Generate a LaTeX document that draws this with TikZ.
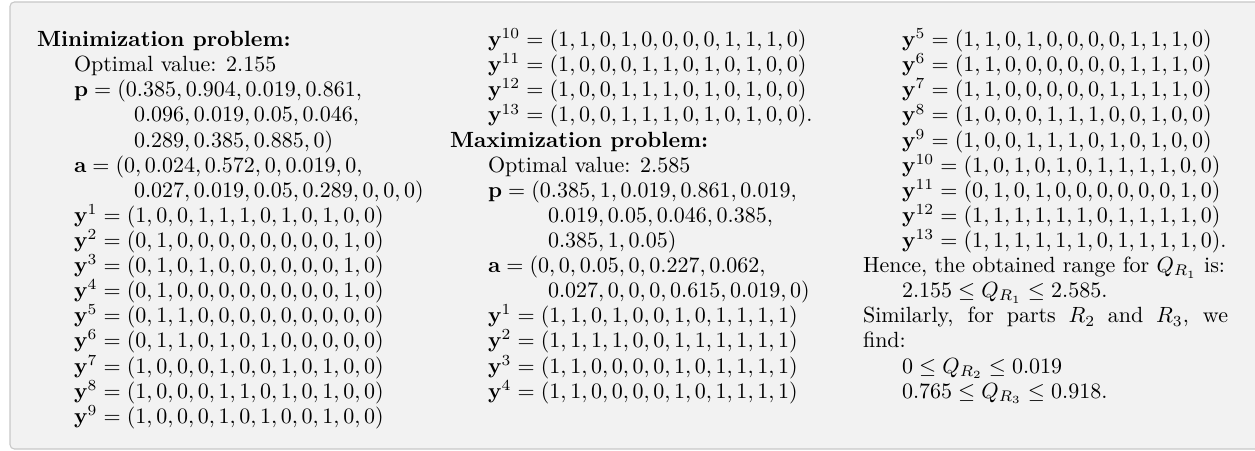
\documentclass[tikz,border=0pt]{standalone}
\usepackage{amsmath}
\definecolor{boxfill}{HTML}{F2F2F2}
\definecolor{boxline}{HTML}{C8C8C8}
\begin{document}
\begin{tikzpicture}[x=0.4545pt,y=-0.4545pt,
  ln/.style={anchor=base west,inner sep=0pt,outer sep=0pt,font=\normalsize}]
\useasboundingbox (0,0) rectangle (1255,451);
\draw[rounded corners=2pt,fill=boxfill,draw=boxline,line width=0.5pt] (10,2) rectangle (1265,449);
% column 1
\node[ln] (a0) at (37,46.7) {\textbf{Minimization problem:}};
\node[ln] (a1) at (74,71.8) {Optimal value: 2.155};
\node[ln] (a2) at (74,96.9) {$\mathbf{p}=(0.385,0.904,0.019,0.861,$};
\node[ln] (a3) at (134,122.0) {$0.096,0.019,0.05,0.046,$};
\node[ln] (a4) at (134,147.1) {$0.289,0.385,0.885,0)$};
\node[ln] (a5) at (74,172.2) {$\mathbf{a}=(0,0.024,0.572,0,0.019,0,$};
\node[ln] (a6) at (134,197.3) {$0.027,0.019,0.05,0.289,0,0,0)$};
\node[ln] (a7) at (74,222.4) {$\mathbf{y}^1=(1,0,0,1,1,1,0,1,0,1,0,0)$};
\node[ln] (a8) at (74,247.5) {$\mathbf{y}^2=(0,1,0,0,0,0,0,0,0,0,1,0)$};
\node[ln] (a9) at (74,272.6) {$\mathbf{y}^3=(0,1,0,1,0,0,0,0,0,0,1,0)$};
\node[ln] (a10) at (74,297.7) {$\mathbf{y}^4=(0,1,0,0,0,0,0,0,0,0,1,0)$};
\node[ln] (a11) at (74,322.8) {$\mathbf{y}^5=(0,1,1,0,0,0,0,0,0,0,0,0)$};
\node[ln] (a12) at (74,347.9) {$\mathbf{y}^6=(0,1,1,0,1,0,1,0,0,0,0,0)$};
\node[ln] (a13) at (74,373.0) {$\mathbf{y}^7=(1,0,0,0,1,0,0,1,0,1,0,0)$};
\node[ln] (a14) at (74,398.1) {$\mathbf{y}^8=(1,0,0,0,1,1,0,1,0,1,0,0)$};
\node[ln] (a15) at (74,423.2) {$\mathbf{y}^9=(1,0,0,0,1,0,1,0,0,1,0,0)$};
% column 2
\node[ln] (b0) at (488,46.7) {$\mathbf{y}^{10}=(1,1,0,1,0,0,0,0,1,1,1,0)$};
\node[ln] (b1) at (488,71.8) {$\mathbf{y}^{11}=(1,0,0,0,1,1,0,1,0,1,0,0)$};
\node[ln] (b2) at (488,96.9) {$\mathbf{y}^{12}=(1,0,0,1,1,1,0,1,0,1,0,0)$};
\node[ln] (b3) at (488,122.0) {$\mathbf{y}^{13}=(1,0,0,1,1,1,0,1,0,1,0,0).$};
\node[ln] (b4) at (450,147.1) {\textbf{Maximization problem:}};
\node[ln] (b5) at (488,172.2) {Optimal value: 2.585};
\node[ln] (b6) at (488,197.3) {$\mathbf{p}=(0.385,1,0.019,0.861,0.019,$};
\node[ln] (b7) at (548,222.4) {$0.019,0.05,0.046,0.385,$};
\node[ln] (b8) at (548,247.5) {$0.385,1,0.05)$};
\node[ln] (b9) at (488,272.6) {$\mathbf{a}=(0,0,0.05,0,0.227,0.062,$};
\node[ln] (b10) at (548,297.7) {$0.027,0,0,0,0.615,0.019,0)$};
\node[ln] (b11) at (488,322.8) {$\mathbf{y}^1=(1,1,0,1,0,0,1,0,1,1,1,1)$};
\node[ln] (b12) at (488,347.9) {$\mathbf{y}^2=(1,1,1,1,0,0,1,1,1,1,1,1)$};
\node[ln] (b13) at (488,373.0) {$\mathbf{y}^3=(1,1,0,0,0,0,1,0,1,1,1,1)$};
\node[ln] (b14) at (488,398.1) {$\mathbf{y}^4=(1,1,0,0,0,0,1,0,1,1,1,1)$};
% column 3
\node[ln] (c0) at (902,46.7) {$\mathbf{y}^5=(1,1,0,1,0,0,0,0,1,1,1,0)$};
\node[ln] (c1) at (902,71.8) {$\mathbf{y}^6=(1,1,0,0,0,0,0,0,1,1,1,0)$};
\node[ln] (c2) at (902,96.9) {$\mathbf{y}^7=(1,1,0,0,0,0,0,1,1,1,1,0)$};
\node[ln] (c3) at (902,122.0) {$\mathbf{y}^8=(1,0,0,0,1,1,1,0,0,1,0,0)$};
\node[ln] (c4) at (902,147.1) {$\mathbf{y}^9=(1,0,0,1,1,1,0,1,0,1,0,0)$};
\node[ln] (c5) at (902,172.2) {$\mathbf{y}^{10}=(1,0,1,0,1,0,1,1,1,1,0,0)$};
\node[ln] (c6) at (902,197.3) {$\mathbf{y}^{11}=(0,1,0,1,0,0,0,0,0,0,1,0)$};
\node[ln] (c7) at (902,222.4) {$\mathbf{y}^{12}=(1,1,1,1,1,1,0,1,1,1,1,0)$};
\node[ln] (c8) at (902,247.5) {$\mathbf{y}^{13}=(1,1,1,1,1,1,0,1,1,1,1,0).$};
\node[ln] (c9) at (863,272.6) {Hence, the obtained range for $Q_{R_1}$ is:};
\node[ln] (c10) at (902,297.7) {$2.155\le Q_{R_1}\le 2.585.$};
\node[ln] (c11) at (863,322.8) {\hbox to 165.9pt{Similarly, for parts $R_2$ and $R_3$, we}};
\node[ln] (c12) at (863,347.9) {find:};
\node[ln] (c13) at (902,373.0) {$0\le Q_{R_2}\le 0.019$};
\node[ln] (c14) at (902,398.1) {$0.765\le Q_{R_3}\le 0.918.$};
\end{tikzpicture}
\end{document}
